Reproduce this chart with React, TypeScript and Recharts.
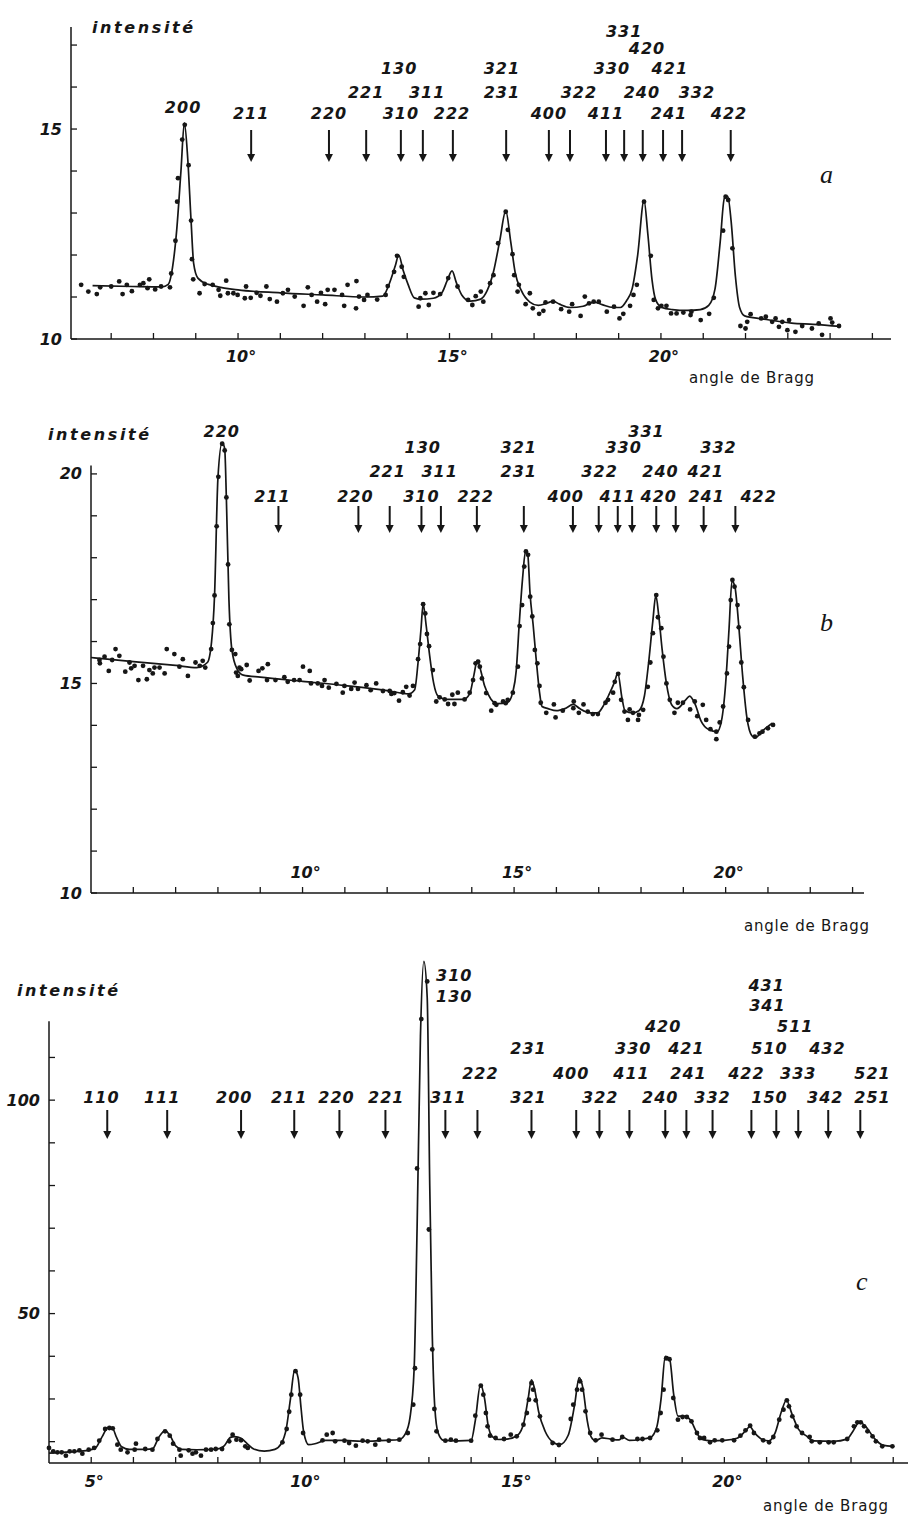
import React from "react";
import { ComposedChart, Line, Scatter, XAxis, YAxis, ReferenceLine } from "recharts";

const INK = "#161616";
const BOLD_ITALIC = { fontFamily: "'DejaVu Sans', sans-serif", fontWeight: 700, fontStyle: "italic" as const };

// ---------- panel a ----------
const pointsA: number[][] = [
  [6.29, 11.29], [6.46, 11.13], [6.66, 11.07], [6.74, 11.23], [7.0, 11.25], [7.19, 11.37], [7.27, 11.07], [7.37, 11.29],
  [7.49, 11.14], [7.68, 11.29], [7.76, 11.33], [7.86, 11.21], [7.9, 11.42], [8.04, 11.18], [8.18, 11.25], [8.39, 11.23],
  [8.42, 11.56], [8.52, 12.34], [8.56, 13.27], [8.58, 13.83], [8.68, 14.75], [8.74, 15.1], [8.83, 14.14], [8.89, 12.82],
  [8.91, 11.9], [8.94, 11.42], [9.09, 11.09], [9.21, 11.31], [9.4, 11.29], [9.54, 11.17], [9.58, 11.03], [9.72, 11.39],
  [9.76, 11.09], [9.89, 11.09], [9.99, 11.05], [10.16, 10.97], [10.19, 11.25], [10.3, 10.98], [10.44, 11.1], [10.53, 11.03],
  [10.67, 11.25], [10.75, 10.95], [10.92, 10.89], [11.06, 11.09], [11.18, 11.17], [11.34, 11.01], [11.55, 10.79], [11.65, 11.23],
  [11.74, 11.05], [11.87, 10.89], [11.96, 11.1], [12.06, 10.83], [12.12, 11.17], [12.28, 11.17], [12.46, 11.05], [12.51, 10.79],
  [12.59, 11.29], [12.79, 10.73], [12.8, 11.38], [12.86, 11.01], [12.98, 10.93], [13.06, 11.05], [13.29, 10.94], [13.49, 11.05],
  [13.54, 11.26], [13.69, 11.6], [13.76, 11.98], [13.87, 11.72], [13.92, 11.48], [14.27, 10.77], [14.31, 10.97], [14.43, 11.09],
  [14.51, 10.81], [14.62, 11.1], [14.78, 11.07], [14.97, 11.45], [15.19, 11.25], [15.44, 10.93], [15.54, 10.81], [15.62, 11.02],
  [15.74, 11.13], [15.8, 10.89], [15.96, 11.33], [16.04, 11.52], [16.15, 12.28], [16.33, 13.03], [16.38, 12.6], [16.49, 12.02],
  [16.53, 11.52], [16.61, 11.13], [16.64, 11.29], [16.8, 10.83], [16.9, 11.09], [16.97, 10.73], [17.12, 10.6], [17.22, 10.67],
  [17.27, 10.87], [17.45, 10.89], [17.64, 10.71], [17.83, 10.65], [17.9, 10.83], [18.1, 10.55], [18.2, 11.01], [18.3, 10.85],
  [18.41, 10.89], [18.53, 10.89], [18.72, 10.65], [18.89, 10.77], [19.02, 10.49], [19.11, 10.6], [19.27, 10.79], [19.35, 11.05],
  [19.43, 11.29], [19.6, 13.27], [19.76, 11.98], [19.83, 10.93], [19.93, 10.73], [20.01, 10.79], [20.13, 10.79], [20.24, 10.61],
  [20.37, 10.61], [20.53, 10.63], [20.7, 10.57], [20.72, 10.65], [20.94, 10.45], [21.14, 10.6], [21.25, 10.98], [21.47, 12.58],
  [21.53, 13.39], [21.59, 13.31], [21.69, 12.16], [21.88, 10.31], [22.0, 10.25], [22.04, 10.41], [22.12, 10.59], [22.37, 10.49],
  [22.48, 10.53], [22.63, 10.41], [22.71, 10.49], [22.79, 10.29], [22.87, 10.41], [22.99, 10.21], [23.03, 10.45], [23.18, 10.17],
  [23.34, 10.31], [23.57, 10.25], [23.73, 10.37], [23.81, 10.1], [24.01, 10.49], [24.05, 10.39], [24.21, 10.31],
];
const curveA: number[][] = [
  [6.56, 11.27], [7.5, 11.25], [8.2, 11.24], [8.35, 11.3], [8.45, 11.7], [8.55, 12.6], [8.65, 14.0], [8.73, 15.15],
  [8.81, 14.3], [8.89, 12.8], [8.95, 11.8], [9.05, 11.45], [9.3, 11.3], [10, 11.17], [11, 11.1], [12, 11.05], [13, 11.0],
  [13.42, 11.02], [13.57, 11.3], [13.72, 11.75], [13.8, 12.0], [13.9, 11.65], [14.02, 11.3], [14.17, 10.98], [14.32, 10.95],
  [14.62, 10.97], [14.82, 11.1], [14.95, 11.4], [15.06, 11.62], [15.16, 11.35], [15.29, 11.05], [15.49, 10.9], [15.74, 10.95],
  [15.89, 11.15], [16.04, 11.6], [16.19, 12.35], [16.33, 13.05], [16.45, 12.3], [16.55, 11.6], [16.7, 11.15], [16.9, 10.88],
  [17.1, 10.8], [17.3, 10.85], [17.45, 10.9], [17.6, 10.83], [17.86, 10.75], [18.16, 10.78], [18.41, 10.88], [18.61, 10.82],
  [18.86, 10.75], [19.04, 10.75], [19.18, 10.9], [19.32, 11.2], [19.45, 12.0], [19.6, 13.3], [19.69, 12.5], [19.79, 11.4],
  [19.87, 10.95], [20.02, 10.75], [20.27, 10.7], [20.62, 10.68], [20.93, 10.7], [21.13, 10.8], [21.28, 11.2], [21.4, 12.3],
  [21.5, 13.35], [21.58, 13.4], [21.66, 12.8], [21.76, 11.5], [21.86, 10.75], [21.98, 10.55], [22.39, 10.48], [23.09, 10.38],
  [23.6, 10.35], [24.25, 10.3],
];
const arrowsA = [10.31, 12.15, 13.03, 13.85, 14.37, 15.08, 16.34, 17.35, 17.85, 18.7, 19.13, 19.57, 20.05, 20.5, 21.65];
const labelsA: [string, number, number][] = [
  ["200", 8.7, 5], ["211", 10.31, 0], ["220", 12.15, 0], ["310", 13.85, 0], ["222", 15.06, 0], ["400", 17.35, 0],
  ["411", 18.7, 0], ["241", 20.19, 0], ["422", 21.61, 0], ["221", 13.03, 1], ["311", 14.47, 1], ["231", 16.24, 1],
  ["322", 18.06, 1], ["240", 19.55, 1], ["332", 20.85, 1], ["130", 13.81, 2], ["321", 16.24, 2], ["330", 18.84, 2],
  ["421", 20.21, 2], ["420", 19.67, 3], ["331", 19.13, 4],
];
const xTicksA = [7, 8, 9, 10, 11, 12, 13, 14, 15, 16, 17, 18, 19, 20, 21, 22, 23, 24, 25];
const xLabelsA = [10, 15, 20];
const yTicksA = [10, 11, 12, 13, 14, 15, 16, 17];
const yLabelsA = [10, 15];

// ---------- panel b ----------
const pointsB: number[][] = [
  [5.2, 15.56], [5.21, 15.48], [5.32, 15.64], [5.42, 15.3], [5.5, 15.56], [5.58, 15.82], [5.67, 15.66], [5.81, 15.28],
  [5.91, 15.5], [5.95, 15.36], [6.03, 15.42], [6.12, 15.08], [6.23, 15.42], [6.32, 15.1], [6.38, 15.32], [6.46, 15.24],
  [6.5, 15.38], [6.62, 15.38], [6.74, 15.24], [6.79, 15.82], [6.97, 15.7], [7.09, 15.4], [7.17, 15.58], [7.29, 15.18],
  [7.47, 15.5], [7.57, 15.42], [7.64, 15.54], [7.7, 15.38], [7.84, 15.82], [7.88, 16.44], [7.92, 17.1], [7.97, 18.75],
  [8.01, 19.93], [8.1, 20.72], [8.16, 20.56], [8.2, 19.44], [8.24, 17.84], [8.27, 16.41], [8.33, 15.8], [8.41, 15.7],
  [8.43, 15.26], [8.47, 15.18], [8.51, 15.38], [8.55, 15.34], [8.68, 15.44], [8.75, 15.07], [8.96, 15.3], [9.05, 15.36],
  [9.16, 15.08], [9.18, 15.46], [9.36, 15.08], [9.57, 15.15], [9.65, 15.04], [9.8, 15.08], [9.93, 15.08], [10.01, 15.4],
  [10.17, 15.3], [10.2, 15.0], [10.36, 15.0], [10.46, 14.94], [10.52, 15.08], [10.62, 14.9], [10.8, 14.99], [10.95, 14.78],
  [10.99, 14.94], [11.15, 14.87], [11.23, 15.02], [11.31, 14.87], [11.51, 14.96], [11.61, 14.84], [11.74, 15.0], [11.9, 14.82],
  [12.06, 14.82], [12.1, 14.75], [12.17, 14.77], [12.28, 14.59], [12.37, 14.79], [12.45, 14.92], [12.53, 14.71], [12.61, 14.94],
  [12.73, 15.58], [12.78, 15.94], [12.85, 16.89], [12.9, 16.67], [12.94, 16.18], [12.99, 15.89], [13.08, 15.32], [13.16, 14.57],
  [13.24, 14.67], [13.36, 14.62], [13.44, 14.51], [13.54, 14.73], [13.59, 14.51], [13.67, 14.78], [13.83, 14.62], [13.95, 14.78],
  [14.03, 15.08], [14.09, 15.48], [14.15, 15.52], [14.19, 15.4], [14.24, 15.12], [14.34, 14.77], [14.46, 14.35], [14.54, 14.53],
  [14.58, 14.49], [14.74, 14.57], [14.8, 14.53], [14.85, 14.61], [14.97, 14.78], [15.09, 15.4], [15.13, 16.37], [15.19, 16.87],
  [15.24, 17.79], [15.28, 18.15], [15.33, 18.07], [15.38, 17.07], [15.43, 16.6], [15.49, 15.8], [15.55, 15.48], [15.6, 14.94],
  [15.63, 14.54], [15.76, 14.3], [15.94, 14.5], [15.98, 14.19], [16.15, 14.35], [16.4, 14.41], [16.41, 14.57], [16.53, 14.3],
  [16.64, 14.5], [16.74, 14.33], [16.86, 14.27], [16.98, 14.27], [17.16, 14.54], [17.22, 14.61], [17.34, 14.78], [17.38, 15.04],
  [17.46, 15.23], [17.53, 14.61], [17.61, 14.33], [17.69, 14.13], [17.73, 14.38], [17.81, 14.3], [17.93, 14.13], [17.95, 14.25],
  [18.05, 14.37], [18.16, 14.92], [18.22, 15.5], [18.28, 16.2], [18.36, 17.11], [18.4, 16.58], [18.48, 16.32], [18.53, 15.64],
  [18.6, 15.0], [18.68, 14.61], [18.79, 14.3], [18.87, 14.54], [18.99, 14.54], [19.16, 14.38], [19.27, 14.57], [19.33, 14.22],
  [19.46, 14.49], [19.54, 14.13], [19.64, 13.91], [19.78, 13.85], [19.78, 13.67], [19.86, 14.07], [19.94, 14.45], [20.03, 15.24],
  [20.08, 15.88], [20.12, 16.99], [20.16, 17.47], [20.21, 17.31], [20.28, 16.87], [20.31, 16.34], [20.37, 15.5], [20.43, 14.91],
  [20.53, 14.13], [20.69, 13.73], [20.8, 13.81], [20.87, 13.85], [21.0, 13.93], [21.12, 14.01],
];
const curveB: number[][] = [
  [5.0, 15.62], [6, 15.52], [7, 15.43], [7.5, 15.38], [7.75, 15.5], [7.85, 16.0], [7.92, 17.1], [8.0, 19.9], [8.1, 20.75],
  [8.16, 20.6], [8.2, 19.4], [8.26, 17.0], [8.33, 15.8], [8.45, 15.35], [8.6, 15.2], [9, 15.15], [10, 15.05], [11, 14.95],
  [12, 14.83], [12.5, 14.75], [12.65, 14.85], [12.73, 15.5], [12.8, 16.3], [12.85, 16.9], [12.92, 16.4], [13.0, 15.7],
  [13.1, 15.0], [13.2, 14.7], [13.4, 14.62], [13.8, 14.62], [13.95, 14.75], [14.05, 15.2], [14.13, 15.55], [14.2, 15.35],
  [14.3, 14.95], [14.45, 14.63], [14.6, 14.52], [14.85, 14.55], [14.97, 14.8], [15.05, 15.3], [15.12, 16.4], [15.2, 17.5],
  [15.27, 18.15], [15.32, 18.1], [15.38, 17.1], [15.45, 16.4], [15.52, 15.6], [15.6, 14.8], [15.66, 14.45], [15.8, 14.4],
  [16.0, 14.35], [16.2, 14.4], [16.4, 14.5], [16.55, 14.4], [16.8, 14.3], [16.98, 14.3], [17.1, 14.45], [17.25, 14.75],
  [17.38, 15.05], [17.45, 15.25], [17.55, 14.65], [17.62, 14.35], [17.8, 14.3], [17.95, 14.35], [18.08, 14.7], [18.18, 15.5],
  [18.28, 16.5], [18.35, 17.1], [18.42, 16.6], [18.5, 15.8], [18.6, 15.0], [18.72, 14.5], [18.85, 14.4], [19.05, 14.6],
  [19.15, 14.7], [19.28, 14.5], [19.42, 14.1], [19.6, 13.9], [19.8, 13.85], [19.9, 14.1], [20.0, 15.0], [20.08, 16.3],
  [20.15, 17.45], [20.22, 17.3], [20.3, 16.5], [20.4, 15.2], [20.5, 14.2], [20.62, 13.75], [20.7, 13.7], [20.85, 13.85],
  [21.1, 14.05],
];
const arrowsB = [9.43, 11.32, 12.06, 12.81, 13.27, 14.12, 15.23, 16.39, 17.0, 17.45, 17.79, 18.36, 18.82, 19.48, 20.23];
const labelsB: [string, number, number][] = [
  ["220", 8.09, 3], ["211", 9.29, 0], ["220", 11.25, 0], ["310", 12.81, 0], ["222", 14.09, 0], ["400", 16.22, 0],
  ["411", 17.45, 0], ["420", 18.42, 0], ["241", 19.55, 0], ["422", 20.78, 0], ["221", 12.01, 1], ["311", 13.24, 1],
  ["231", 15.11, 1], ["322", 17.02, 1], ["240", 18.46, 1], ["421", 19.53, 1], ["130", 12.84, 2], ["321", 15.11, 2],
  ["330", 17.59, 2], ["332", 19.83, 2], ["331", 18.13, 3],
];
const xTicksB = [6, 7, 8, 9, 10, 11, 12, 13, 14, 15, 16, 17, 18, 19, 20, 21, 22, 23];
const xLabelsB = [10, 15, 20];
const yTicksB = [10, 11, 12, 13, 14, 15, 16, 17, 18, 19, 20];
const yLabelsB = [10, 15, 20];

// ---------- panel c ----------
const pointsC: number[][] = [
  [4.0, 18.52], [4.1, 17.74], [4.2, 17.5], [4.3, 17.5], [4.4, 16.72], [4.49, 17.74], [4.6, 17.74], [4.72, 17.97],
  [4.79, 17.19], [4.94, 18.13], [5.07, 18.52], [5.19, 20.23], [5.33, 22.97], [5.43, 23.2], [5.51, 23.12], [5.62, 19.3],
  [5.7, 18.13], [5.86, 17.5], [6.03, 18.13], [6.06, 19.53], [6.28, 18.28], [6.45, 18.13], [6.57, 20.62], [6.75, 22.42],
  [6.86, 21.41], [6.94, 19.53], [7.09, 18.13], [7.12, 16.72], [7.31, 17.97], [7.4, 17.19], [7.48, 17.5], [7.6, 16.72],
  [7.72, 18.13], [7.84, 18.13], [7.95, 18.28], [8.1, 18.28], [8.27, 20.08], [8.35, 21.64], [8.44, 20.47], [8.55, 20.31],
  [8.65, 18.91], [8.71, 18.52], [9.53, 19.84], [9.63, 22.97], [9.69, 27.0], [9.74, 31.0], [9.84, 36.5], [9.95, 31.0],
  [10.02, 22.03], [10.48, 20.31], [10.58, 21.64], [10.72, 22.03], [10.78, 20.08], [11.0, 20.23], [11.11, 19.69], [11.27, 19.06],
  [11.43, 20.23], [11.55, 20.08], [11.73, 19.3], [11.82, 20.47], [12.05, 20.23], [12.3, 20.47], [12.5, 22.03], [12.63, 28.67],
  [12.67, 37.2], [12.72, 84], [12.82, 119], [12.96, 127.8], [13.0, 69.7], [13.08, 41.6], [13.13, 27.65], [13.18, 22.42],
  [13.39, 20.23], [13.52, 20.47], [13.64, 20.23], [14.0, 20.23], [14.1, 26.09], [14.23, 33.11], [14.29, 31.01], [14.35, 26.71],
  [14.39, 23.59], [14.45, 21.41], [14.58, 20.86], [14.78, 20.62], [14.94, 21.64], [15.08, 21.25], [15.24, 23.98], [15.32, 26.71],
  [15.37, 29.84], [15.43, 33.74], [15.47, 32.18], [15.53, 29.68], [15.63, 25.93], [15.93, 19.69], [16.08, 19.22], [16.36, 25.31],
  [16.42, 28.67], [16.51, 32.18], [16.58, 34.13], [16.63, 32.18], [16.71, 27.1], [16.82, 22.03], [16.95, 20.31], [17.09, 21.64],
  [17.35, 20.47], [17.58, 21.09], [17.94, 20.62], [18.06, 20.62], [18.24, 20.86], [18.41, 22.65], [18.49, 26.71], [18.56, 32.18],
  [18.62, 39.5], [18.7, 39.3], [18.79, 30.23], [18.9, 25.15], [19.01, 25.78], [19.11, 25.78], [19.22, 24.76], [19.35, 22.03],
  [19.42, 20.86], [19.52, 20.86], [19.66, 19.84], [19.77, 20.31], [19.95, 20.31], [20.23, 20.31], [20.38, 21.41], [20.5, 22.65],
  [20.61, 23.75], [20.7, 22.03], [20.92, 20.31], [21.06, 19.84], [21.16, 21.09], [21.3, 25.15], [21.4, 27.49], [21.48, 29.68],
  [21.53, 28.27], [21.61, 25.93], [21.71, 23.59], [21.84, 22.03], [22.02, 21.09], [22.07, 20.08], [22.26, 19.84], [22.47, 19.84],
  [22.59, 19.84], [22.91, 20.62], [23.07, 23.59], [23.15, 24.53], [23.23, 24.53], [23.31, 23.59], [23.39, 22.42], [23.51, 21.25],
  [23.59, 20.08], [23.74, 18.91], [23.98, 18.91],
];
const curveC: number[][] = [
  [4.0, 17.3], [4.5, 17.6], [4.95, 18.0], [5.1, 18.5], [5.25, 21], [5.4, 23.3], [5.5, 23.2], [5.6, 21], [5.72, 18.8],
  [5.9, 18.2], [6.3, 18.2], [6.45, 18.3], [6.6, 21], [6.75, 22.6], [6.88, 21.2], [7.0, 19], [7.15, 18.2], [7.5, 18.1],
  [8.0, 18.3], [8.15, 19], [8.3, 21], [8.4, 21.2], [8.55, 20.8], [8.7, 19.5], [8.85, 18.3], [9.1, 17.8], [9.35, 18.2],
  [9.5, 19.5], [9.62, 23], [9.72, 30], [9.82, 36.8], [9.9, 35], [9.97, 28], [10.03, 22.5], [10.15, 19.3], [10.3, 19.5],
  [10.55, 20.3], [11, 20.3], [11.4, 20.1], [12, 20.3], [12.3, 20.5], [12.45, 22], [12.55, 25.5], [12.65, 37], [12.72, 70],
  [12.8, 115], [12.88, 132.5], [12.96, 124], [13.02, 80], [13.08, 45], [13.14, 28], [13.22, 22], [13.35, 20.3], [13.7, 20.2],
  [14.0, 20.3], [14.1, 25], [14.22, 33.3], [14.32, 30], [14.4, 24], [14.5, 21.2], [14.65, 20.5], [14.85, 20.6], [15.1, 21.5],
  [15.25, 24.5], [15.35, 30], [15.43, 34.5], [15.5, 32.5], [15.6, 27], [15.75, 22.5], [15.95, 19.8], [16.1, 19.3],
  [16.3, 21.5], [16.45, 28.5], [16.56, 35], [16.65, 32.5], [16.75, 25], [16.85, 21], [16.95, 20.2], [17.1, 20.9],
  [17.3, 20.6], [17.5, 20.4], [17.6, 21.0], [17.75, 20.3], [18.0, 20.5], [18.25, 21], [18.4, 23.5], [18.5, 30], [18.6, 40],
  [18.7, 39.5], [18.8, 31], [18.9, 26], [19.05, 26], [19.2, 25], [19.35, 22], [19.45, 20.6], [19.7, 20.2], [20.0, 20.3],
  [20.3, 20.8], [20.5, 22.5], [20.6, 23.5], [20.72, 22], [20.9, 20.5], [21.05, 20.2], [21.2, 22], [21.35, 27], [21.47, 29.7],
  [21.6, 26.5], [21.75, 23], [21.95, 21.3], [22.1, 20.2], [22.6, 20.1], [22.9, 20.6], [23.05, 22.5], [23.2, 24.6],
  [23.35, 23.5], [23.55, 20.8], [23.75, 19.2], [24.0, 18.9],
];
const arrowsC = [5.38, 6.8, 8.55, 9.81, 10.88, 11.97, 13.39, 14.15, 15.43, 16.49, 17.04, 17.75, 18.6, 19.1, 19.72, 20.64, 21.23, 21.75, 22.46, 23.22];
const labelsC: [string, number, number][] = [
  ["110", 5.24, 0], ["111", 6.68, 0], ["200", 8.39, 0], ["211", 9.69, 0], ["220", 10.81, 0], ["221", 11.99, 0],
  ["311", 13.46, 0], ["321", 15.36, 0], ["322", 17.06, 0], ["240", 18.48, 0], ["332", 19.72, 0], ["150", 21.07, 0],
  ["342", 22.39, 0], ["251", 23.51, 0], ["222", 14.22, 1], ["400", 16.37, 1], ["411", 17.8, 1], ["241", 19.15, 1],
  ["422", 20.52, 1], ["333", 21.75, 1], ["521", 23.51, 1], ["231", 15.36, 2], ["330", 17.84, 2], ["421", 19.1, 2],
  ["510", 21.07, 2], ["432", 22.44, 2], ["420", 18.55, 3], ["511", 21.68, 3], ["341", 21.02, 4], ["431", 21.0, 5],
  ["310", 13.6, 6], ["130", 13.6, 7],
];
const xTicksC = [5, 6, 7, 8, 9, 10, 11, 12, 13, 14, 15, 16, 17, 18, 19, 20, 21, 22, 23, 24];
const xLabelsC = [5, 10, 15, 20];
const yTicksC = [20, 30, 40, 50, 60, 70, 80, 90, 100, 110];
const yLabelsC = [50, 100];

type Panel = {
  top: number; height: number;
  plotLeft: number; plotTop: number; plotRight: number; plotBottom: number;
  xDomain: [number, number]; yDomain: [number, number]; yAxisTop?: number;
  xTicks: number[]; xLabels: number[]; yTicks: number[]; yLabels: number[]; xLabelDy: number;
  points: number[][]; curve: number[][]; arrows: number[]; labels: [string, number, number][];
  arrowTop: number; arrowBottom: number; rows: number[];
};

const panels: Panel[] = [
  {
    top: 0, height: 400, plotLeft: 71, plotTop: 27, plotRight: 891, plotBottom: 339,
    xDomain: [6.05, 25.44], yDomain: [10, 17.43],
    xTicks: xTicksA, xLabels: xLabelsA, yTicks: yTicksA, yLabels: yLabelsA, xLabelDy: 17,
    points: pointsA, curve: curveA, arrows: arrowsA, labels: labelsA,
    arrowTop: 130, arrowBottom: 162, rows: [113, 92, 68, 48, 31, 107],
  },
  {
    top: 400, height: 540, plotLeft: 91, plotTop: 432, plotRight: 864, plotBottom: 893,
    xDomain: [5, 23.27], yDomain: [10, 21], yAxisTop: 20.2,
    xTicks: xTicksB, xLabels: xLabelsB, yTicks: yTicksB, yLabels: yLabelsB, xLabelDy: -21,
    points: pointsB, curve: curveB, arrows: arrowsB, labels: labelsB,
    arrowTop: 506, arrowBottom: 533, rows: [496, 471, 447, 431],
  },
  {
    top: 940, height: 576, plotLeft: 49, plotTop: 955, plotRight: 908, plotBottom: 1463,
    xDomain: [4, 24.35], yDomain: [15, 134], yAxisTop: 118.5,
    xTicks: xTicksC, xLabels: xLabelsC, yTicks: yTicksC, yLabels: yLabelsC, xLabelDy: 18,
    points: pointsC, curve: curveC, arrows: arrowsC, labels: labelsC,
    arrowTop: 1110, arrowBottom: 1139, rows: [1097, 1073, 1048, 1026, 1005, 985, 975, 996],
  },
];

const toXY = (rows: number[][]) => rows.map(([x, y]) => ({ x, y }));

function XTick(props: any) {
  const { x, y, payload, labelDy, shown } = props;
  const v = payload.value;
  return (
    <g>
      <line x1={x} x2={x} y1={y} y2={y - 6} stroke={INK} strokeWidth={1.3} />
      {shown.includes(v) && (
        <text x={x + 3} y={y + labelDy} textAnchor="middle" dominantBaseline="central" fill={INK} fontSize={16} style={BOLD_ITALIC}>
          {v}°
        </text>
      )}
    </g>
  );
}

function YTick(props: any) {
  const { x, y, payload, shown } = props;
  const v = payload.value;
  return (
    <g>
      <line x1={x} x2={x + 6} y1={y} y2={y} stroke={INK} strokeWidth={1.3} />
      {shown.includes(v) && (
        <text x={x - 9} y={y} textAnchor="end" dominantBaseline="central" fill={INK} fontSize={16} style={BOLD_ITALIC}>
          {v}
        </text>
      )}
    </g>
  );
}

const Dot = (p: any) => <circle cx={p.cx} cy={p.cy} r={2.4} fill={INK} />;

function Chart({ p }: { p: Panel }) {
  const arrowData = p.arrows.map((x) => ({ x, y: p.yDomain[0] }));
  const labelData = p.labels.map(([text, x, row]) => ({ x, y: p.yDomain[0], text, row }));
  const a0 = p.arrowTop - p.top;
  const a1 = p.arrowBottom - p.top;
  return (
    <div style={{ position: "absolute", left: 0, top: p.top, width: 908, height: p.height }}>
      <ComposedChart
        width={908}
        height={p.height}
        margin={{
          top: p.plotTop - p.top,
          right: 908 - p.plotRight,
          bottom: p.top + p.height - p.plotBottom - 30,
          left: p.plotLeft - 40,
        }}
      >
        <XAxis
          type="number"
          dataKey="x"
          domain={p.xDomain}
          ticks={p.xTicks}
          interval={0}
          height={30}
          tickSize={0}
          tickMargin={0}
          tickLine={false}
          axisLine={{ stroke: INK, strokeWidth: 1.5 }}
          tick={<XTick labelDy={p.xLabelDy} shown={p.xLabels} />}
        />
        <YAxis
          type="number"
          dataKey="y"
          domain={p.yDomain}
          ticks={p.yTicks}
          interval={0}
          width={40}
          tickSize={0}
          tickMargin={0}
          tickLine={false}
          axisLine={p.yAxisTop ? false : { stroke: INK, strokeWidth: 1.5 }}
          tick={<YTick shown={p.yLabels} />}
        />
        {p.yAxisTop && (
          <ReferenceLine
            segment={[
              { x: p.xDomain[0], y: p.yDomain[0] },
              { x: p.xDomain[0], y: p.yAxisTop },
            ]}
            stroke={INK}
            strokeWidth={1.5}
          />
        )}
        <Line
          data={toXY(p.curve)}
          dataKey="y"
          type="monotone"
          stroke={INK}
          strokeWidth={1.7}
          dot={false}
          isAnimationActive={false}
        />
        <Scatter data={toXY(p.points)} shape={Dot} isAnimationActive={false} />
        <Scatter
          data={arrowData}
          isAnimationActive={false}
          shape={(s: any) => (
            <g>
              <line x1={s.cx} x2={s.cx} y1={a0} y2={a1 - 6} stroke={INK} strokeWidth={2} />
              <path d={`M${s.cx - 4},${a1 - 8} L${s.cx + 4},${a1 - 8} L${s.cx},${a1} Z`} fill={INK} />
            </g>
          )}
        />
        <Scatter
          data={labelData}
          isAnimationActive={false}
          shape={(s: any) => (
            <text
              x={s.cx}
              y={p.rows[s.payload.row] - p.top}
              textAnchor="middle"
              dominantBaseline="central"
              fill={INK}
              fontSize={16}
              letterSpacing={1}
              style={BOLD_ITALIC}
            >
              {s.payload.text}
            </text>
          )}
        />
      </ComposedChart>
    </div>
  );
}

export default function App() {
  const plain = { fontFamily: "'DejaVu Sans', sans-serif", fontSize: 15, letterSpacing: 0.8 };
  const serif = { fontFamily: "'Liberation Serif', serif", fontStyle: "italic" as const, fontSize: 26 };
  return (
    <div style={{ position: "absolute", left: 0, top: 0, width: 908, height: 1516, background: "#fff" }}>
      {panels.map((p, i) => (
        <Chart key={i} p={p} />
      ))}
      <svg width={908} height={1516} style={{ position: "absolute", left: 0, top: 0, pointerEvents: "none" }}>
        <g fill={INK}>
          <text x={92} y={27} dominantBaseline="central" fontSize={16} letterSpacing={2.6} style={BOLD_ITALIC}>intensité</text>
          <text x={48} y={434} dominantBaseline="central" fontSize={16} letterSpacing={2.6} style={BOLD_ITALIC}>intensité</text>
          <text x={17} y={990} dominantBaseline="central" fontSize={16} letterSpacing={2.6} style={BOLD_ITALIC}>intensité</text>
          <text x={689} y={378} dominantBaseline="central" style={plain}>angle de Bragg</text>
          <text x={744} y={926} dominantBaseline="central" style={plain}>angle de Bragg</text>
          <text x={763} y={1506} dominantBaseline="central" style={plain}>angle de Bragg</text>
          <text x={820} y={183} style={serif}>a</text>
          <text x={820} y={631} style={serif}>b</text>
          <text x={856} y={1290} style={serif}>c</text>
        </g>
      </svg>
    </div>
  );
}
